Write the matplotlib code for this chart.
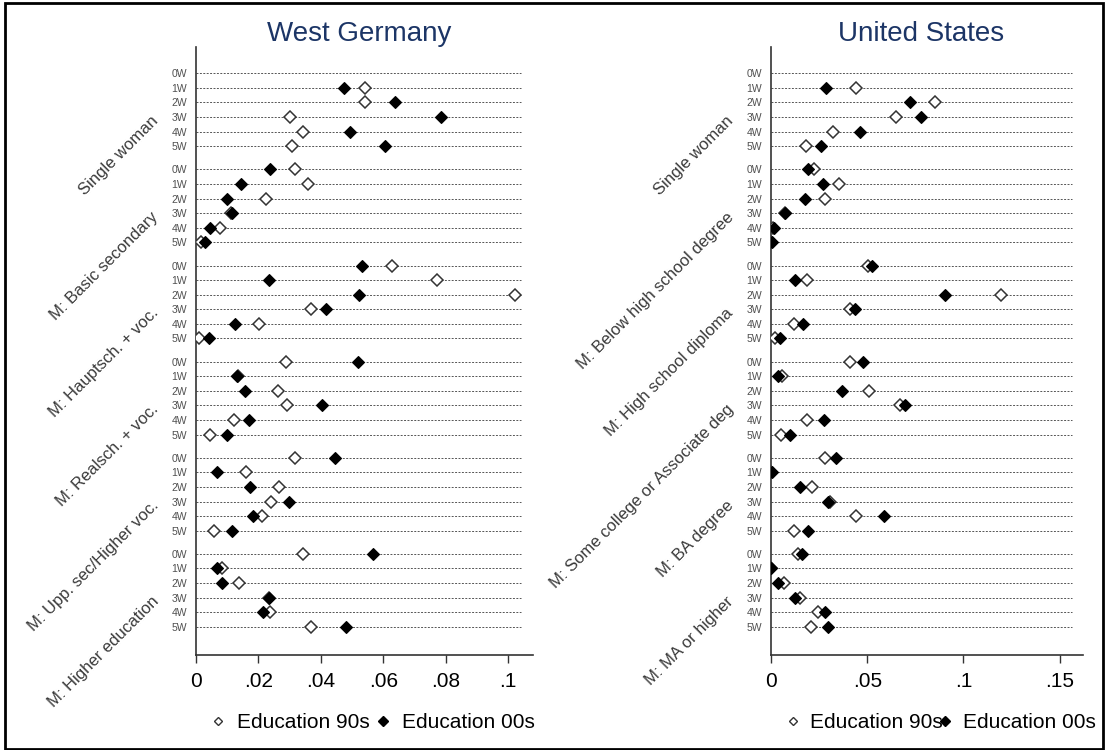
import numpy as np
import matplotlib
matplotlib.use("Agg")
import matplotlib.pyplot as plt
from matplotlib.lines import Line2D
from matplotlib.patches import Rectangle

plt.rcParams["font.family"] = ["Liberation Sans", "DejaVu Sans"]

rows = ["0W", "1W", "2W", "3W", "4W", "5W"]

de_groups = ["Single woman", "M: Basic secondary", "M: Hauptsch. + voc.",
             "M: Realsch. + voc.", "M: Upp. sec/Higher voc.", "M: Higher education"]
us_groups = ["Single woman", "M: Below high school degree", "M: High school diploma",
             "M: Some college or Associate deg", "M: BA degree", "M: MA or higher"]

nan = np.nan
# West Germany, one row per group, values for 0W..5W
de_90s = [
    [nan, 0.0541, 0.0543, 0.0302, 0.0342, 0.0307],
    [0.0318, 0.0359, 0.0225, 0.0112, 0.0077, 0.0015],
    [0.0629, 0.0773, 0.1021, 0.0369, 0.0201, 0.0010],
    [0.0288, 0.0136, 0.0262, 0.0292, 0.0122, 0.0046],
    [0.0318, 0.0160, 0.0267, 0.0241, 0.0210, 0.0059],
    [0.0342, 0.0082, 0.0139, 0.0233, 0.0238, 0.0369],
]
de_00s = [
    [nan, 0.0474, 0.0637, 0.0784, 0.0493, 0.0606],
    [0.0237, 0.0145, 0.0099, 0.0116, 0.0046, 0.0028],
    [0.0532, 0.0233, 0.0523, 0.0416, 0.0124, 0.0042],
    [0.0518, 0.0130, 0.0156, 0.0403, 0.0170, 0.0098],
    [0.0447, 0.0067, 0.0174, 0.0298, 0.0183, 0.0114],
    [0.0567, 0.0067, 0.0082, 0.0235, 0.0214, 0.0481],
]
# United States
us_90s = [
    [nan, 0.0444, 0.0850, 0.0651, 0.0323, 0.0180],
    [0.0223, 0.0351, 0.0279, 0.0072, 0.0010, 0.0002],
    [0.0502, 0.0186, 0.1193, 0.0409, 0.0117, 0.0019],
    [0.0409, 0.0059, 0.0511, 0.0669, 0.0186, 0.0050],
    [0.0279, 0.0002, 0.0212, 0.0307, 0.0444, 0.0117],
    [0.0138, 0.0000, 0.0067, 0.0152, 0.0242, 0.0210],
]
us_00s = [
    [nan, 0.0284, 0.0725, 0.0781, 0.0461, 0.0260],
    [0.0193, 0.0268, 0.0175, 0.0073, 0.0013, 0.0004],
    [0.0524, 0.0126, 0.0902, 0.0437, 0.0167, 0.0045],
    [0.0480, 0.0037, 0.0368, 0.0695, 0.0275, 0.0097],
    [0.0336, 0.0004, 0.0152, 0.0297, 0.0586, 0.0193],
    [0.0162, 0.0000, 0.0037, 0.0125, 0.0279, 0.0294],
]

de_ticks = [0, 0.02, 0.04, 0.06, 0.08, 0.1]
de_ticklabels = ["0", ".02", ".04", ".06", ".08", ".1"]
us_ticks = [0, 0.05, 0.1, 0.15]
us_ticklabels = ["0", ".05", ".1", ".15"]

W, H = 1111, 750
GAP = 1.6  # extra space between groups, in row units


def panel(rect, title, title_x, groups, v90, v00, xmax, ticks, ticklabels):
    ax = fig.add_axes(rect)
    step = len(rows) - 1 + GAP
    pos = [g * step + i for g in range(len(groups)) for i in range(len(rows))]
    for y in pos:
        ax.axhline(y, xmin=0, xmax=0.965, color="#555555", lw=0.7,
                   linestyle=(0, (2, 1.5)), zorder=1)
    a = np.array(v90).ravel()
    b = np.array(v00).ravel()
    ax.plot(a, pos, linestyle="none", marker="D", ms=6, mfc="white",
            mec="#333333", mew=1.1, zorder=3)
    ax.plot(b, pos, linestyle="none", marker="D", ms=6, mfc="black",
            mec="black", mew=0.8, zorder=4)
    ax.set_xlim(0, xmax)
    ax.set_ylim(pos[-1] + 1.94, -1.83)
    ax.set_yticks(pos)
    ax.set_yticklabels(rows * len(groups), fontsize=7.5, color="#505050")
    ax.tick_params(axis="y", length=0, pad=6.5)
    ax.set_xticks(ticks)
    ax.set_xticklabels(ticklabels, fontsize=15)
    ax.tick_params(axis="x", length=6, width=1, color="#333333", pad=6)
    for s in ["top", "right"]:
        ax.spines[s].set_visible(False)
    for s in ["left", "bottom"]:
        ax.spines[s].set_color("#333333")
        ax.spines[s].set_linewidth(1.2)
    ax.set_title(title, fontsize=20, color="#1c3566", pad=3, x=title_x)
    for g, name in enumerate(groups):
        gy = g * step + 3.1
        ax.annotate(name, xy=(0, gy), xycoords=("axes fraction", "data"),
                    xytext=(-40, 0), textcoords="offset pixels",
                    rotation=45, rotation_mode="anchor", ha="right", va="center",
                    fontsize=12, color="#3a3a3a")
    h1 = Line2D([], [], linestyle="none", marker="D", ms=4.5, mfc="white",
                mec="#333333", mew=1.0)
    h2 = Line2D([], [], linestyle="none", marker="D", ms=5, mfc="black", mec="black")
    return ax, (h1, h2)


fig = plt.figure(figsize=(W / 100, H / 100), dpi=100)

ax1, hs = panel([196 / W, 1 - 655 / H, (533 - 196) / W, (655 - 46.7) / H],
                "West Germany", 0.485, de_groups, de_90s, de_00s, 0.108,
                de_ticks, de_ticklabels)
fig.legend(hs, ["Education 90s", "Education 00s"], ncol=2, frameon=False,
           fontsize=15, handlelength=0.8, handletextpad=0.5, columnspacing=0.25,
           loc="center", bbox_to_anchor=(372 / W, 1 - 723 / H))

ax2, hs = panel([771 / W, 1 - 655 / H, (1082.7 - 771) / W, (655 - 46.7) / H],
                "United States", 0.48, us_groups, us_90s, us_00s, 0.162,
                us_ticks, us_ticklabels)
fig.legend(hs, ["Education 90s", "Education 00s"], ncol=2, frameon=False,
           fontsize=15, handlelength=0.8, handletextpad=0.45, columnspacing=-0.3,
           loc="center", bbox_to_anchor=(940 / W, 1 - 723 / H))

fig.patches.append(Rectangle((5 / W, 1.5 / H), (1103 - 5) / W, (747 - 1.5) / H,
                             transform=fig.transFigure, fill=False,
                             edgecolor="black", linewidth=2))

fig.savefig("out.png", dpi=100)
